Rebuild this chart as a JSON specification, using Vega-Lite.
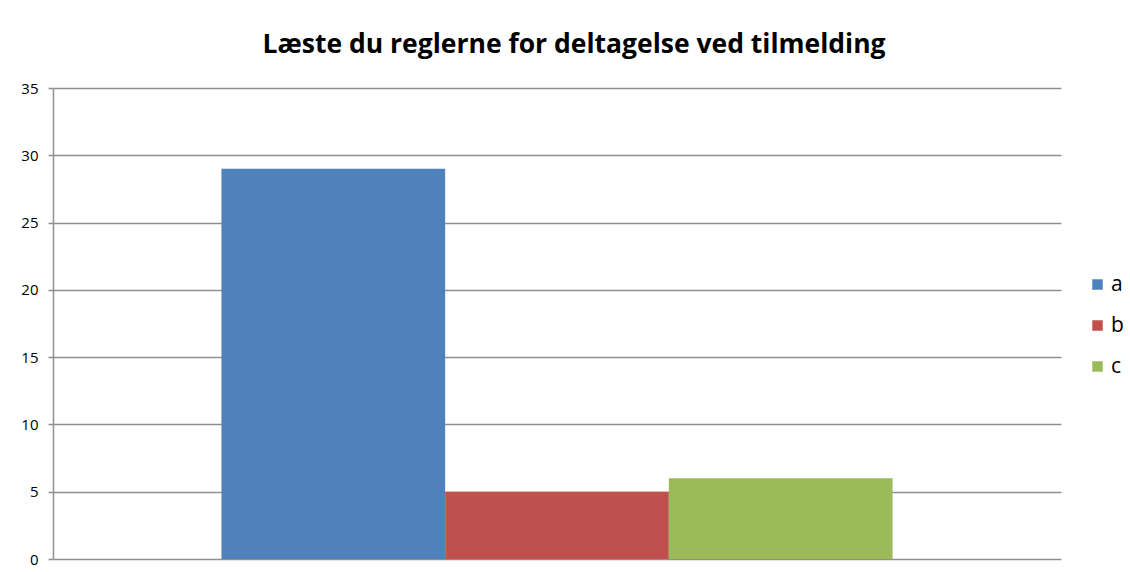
{
  "$schema": "https://vega.github.io/schema/vega-lite/v6.json",
  "width": 1008,
  "height": 471,
  "autosize": {"type": "none"},
  "padding": {"left": 53, "top": 88, "right": 69, "bottom": 13},
  "background": "white",
  "title": {
    "text": "Læste du reglerne for deltagelse ved tilmelding",
    "font": "Open Sans",
    "fontSize": 26.5,
    "fontWeight": "bold",
    "color": "black",
    "anchor": "middle",
    "dx": 17,
    "offset": 23
  },
  "data": {
    "values": [
      {"serie": "a", "antal": 29},
      {"serie": "b", "antal": 5},
      {"serie": "c", "antal": 6}
    ]
  },
  "mark": {"type": "bar"},
  "encoding": {
    "x": {
      "field": "serie",
      "type": "nominal",
      "scale": {"paddingInner": 0, "paddingOuter": 0.753},
      "axis": null
    },
    "y": {
      "field": "antal",
      "type": "quantitative",
      "scale": {"domain": [0, 35]},
      "axis": {
        "title": null,
        "values": [0, 5, 10, 15, 20, 25, 30, 35],
        "grid": true,
        "gridColor": "#8f8f8f",
        "gridWidth": 1.5,
        "domainColor": "#8f8f8f",
        "domainWidth": 1.5,
        "tickColor": "#8f8f8f",
        "tickWidth": 1.5,
        "tickSize": 5,
        "labelFont": "Open Sans",
        "labelFontSize": 15,
        "labelColor": "black",
        "labelPadding": 10
      }
    },
    "color": {
      "field": "serie",
      "type": "nominal",
      "scale": {"domain": ["a", "b", "c"], "range": ["#4F81BD", "#C0504D", "#9BBB59"]},
      "legend": {
        "title": null,
        "orient": "none",
        "legendX": 1034,
        "legendY": 186,
        "symbolType": "square",
        "symbolSize": 110,
        "symbolStrokeWidth": 0,
        "labelFont": "Open Sans",
        "labelFontSize": 21,
        "labelColor": "black",
        "labelOffset": 3,
        "rowPadding": 19
      }
    }
  },
  "config": {"view": {"stroke": null}}
}
